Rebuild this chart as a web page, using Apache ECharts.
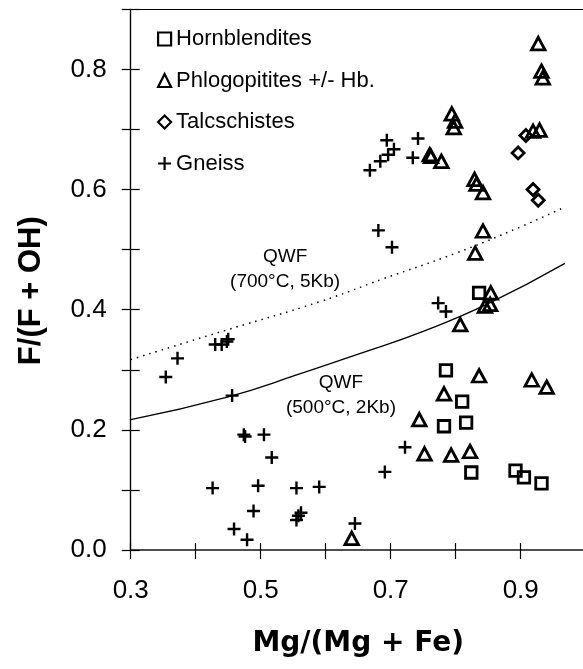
<!DOCTYPE html>
<html>
<head>
<meta charset="utf-8">
<script src="https://cdn.jsdelivr.net/npm/echarts@6/dist/echarts.min.js"></script>
<style>
html,body{margin:0;padding:0;background:#fff;}
#chart{width:583px;height:669px;}
</style>
</head>
<body>
<div id="chart"></div>
<script>
// ---- data ----
const hornblendites = [[0.836,0.428],[0.785,0.299],[0.81,0.247],[0.782,0.206],[0.816,0.212],[0.824,0.129],[0.892,0.132],[0.905,0.121],[0.932,0.111]];
const phlogopitites = [[0.927,0.843],[0.932,0.797],[0.934,0.786],[0.794,0.726],[0.799,0.714],[0.797,0.703],[0.760,0.658],[0.762,0.655],[0.778,0.647],[0.919,0.697],[0.929,0.699],[0.829,0.617],[0.832,0.609],[0.842,0.595],[0.842,0.531],[0.83,0.494],[0.854,0.428],[0.845,0.406],[0.853,0.409],[0.807,0.375],[0.836,0.29],[0.917,0.283],[0.94,0.271],[0.782,0.26],[0.744,0.217],[0.752,0.16],[0.793,0.158],[0.822,0.164],[0.64,0.0195]];
const talcschistes = [[0.896,0.661],[0.908,0.69],[0.919,0.6],[0.927,0.582]];
const gneiss = [[0.354,0.288],[0.372,0.319],[0.43,0.342],[0.44,0.342],[0.448,0.347],[0.45,0.351],[0.456,0.257],[0.474,0.192],[0.476,0.189],[0.505,0.192],[0.517,0.154],[0.426,0.103],[0.496,0.107],[0.555,0.103],[0.59,0.105],[0.489,0.065],[0.555,0.05],[0.558,0.057],[0.562,0.062],[0.459,0.035],[0.479,0.017],[0.722,0.171],[0.691,0.13],[0.645,0.044],[0.681,0.532],[0.702,0.504],[0.773,0.411],[0.785,0.397],[0.668,0.632],[0.684,0.647],[0.696,0.658],[0.705,0.667],[0.694,0.682],[0.734,0.653],[0.742,0.685]];
const qwf700 = [[0.3,0.317],[0.45,0.367],[0.59,0.413],[0.69,0.452],[0.8,0.494],[0.9,0.538],[0.968,0.571]];
const qwf500 = [[0.3,0.217],[0.45,0.255],[0.56,0.293],[0.65,0.326],[0.75,0.364],[0.85,0.41],[0.968,0.477]];
const qwf700Label = {coord:[0.5375,0.4675], text:'QWF\n(700°C, 5Kb)'};
const qwf500Label = {coord:[0.6235,0.257], text:'QWF\n(500°C, 2Kb)'};
const xTickLabels = ['0.3','0.5','0.7','0.9'];
const yTickLabels = ['0.0','0.2','0.4','0.6','0.8'];
const xTitle = 'Mg/(Mg + Fe)';
const yTitle = 'F/(F + OH)';

const FONT = 'Liberation Sans';
const markerStyle = {color:'rgba(0,0,0,0)', borderColor:'#000', borderWidth:2.8, opacity:1};
const plusPath = 'path://M0,6H12M6,0V12';

function xAxisBase(extra){
  return Object.assign({
    type:'value', min:0.3, max:1.0, interval:0.1, position:'bottom',
    splitLine:{show:false},
    axisLine:{show:true, onZero:false, lineStyle:{color:'#444', width:1.6}},
    axisTick:{show:true, length:9, lineStyle:{color:'#000', width:1.2}},
    axisLabel:{show:false}
  }, extra);
}
function yAxisBase(extra){
  return Object.assign({
    type:'value', min:0, max:0.9, interval:0.1, position:'left',
    splitLine:{show:false},
    axisLine:{show:true, onZero:false, lineStyle:{color:'#000', width:1.2}},
    axisTick:{show:true, length:9, lineStyle:{color:'#000', width:1.2}},
    axisLabel:{show:false}
  }, extra);
}

const chart = echarts.init(document.getElementById('chart'), null, {renderer:'canvas'});
chart.setOption({
  backgroundColor:'#fff',
  animation:false,
  grid:{left:130.7, top:9.3, bottom:119, right:-2.7, containLabel:false, outerBoundsMode:'none'},
  legend:{
    orient:'vertical', left:157, top:27, itemGap:17.5, padding:0,
    itemWidth:13, itemHeight:13,
    textStyle:{fontFamily:FONT, fontSize:22, color:'#000', lineHeight:24},
    itemStyle:{color:'rgba(0,0,0,0)', borderColor:'#000', borderWidth:2.2, opacity:1},
    data:['Hornblendites','Phlogopitites +/- Hb.','Talcschistes','Gneiss'],
    selectedMode:false
  },
  xAxis:[
    xAxisBase({
      axisTick:{show:true, inside:false, length:9, lineStyle:{color:'#000', width:1.2}},
      axisLabel:{show:true, margin:28, fontFamily:FONT, fontSize:26, color:'#000',
        formatter:function(v){const s=v.toFixed(1); return xTickLabels.indexOf(s)>=0?s:'';}},
      name:xTitle, nameLocation:'middle', nameGap:80,
      nameTextStyle:{fontFamily:'DejaVu Sans', fontWeight:'bold', fontSize:28, color:'#000'}
    }),
    xAxisBase({axisTick:{show:true, inside:true, length:7, lineStyle:{color:'#000', width:1.2}}}),
    xAxisBase({position:'top', axisLine:{show:true, onZero:false, lineStyle:{color:'#000', width:1.2}}, axisTick:{show:false}})
  ],
  yAxis:[
    yAxisBase({
      axisTick:{show:true, inside:false, length:9, lineStyle:{color:'#000', width:1.2}},
      axisLabel:{show:true, margin:24, fontFamily:FONT, fontSize:26, color:'#000',
        formatter:function(v){const s=v.toFixed(1); return yTickLabels.indexOf(s)>=0?s:'';}},
      name:yTitle, nameLocation:'middle', nameGap:84, nameRotate:90,
      nameTextStyle:{fontFamily:'Liberation Sans', fontWeight:'bold', fontSize:31, color:'#000', padding:[0,22,0,0]}
    }),
    yAxisBase({axisTick:{show:true, inside:true, length:9, lineStyle:{color:'#000', width:1.2}}})
  ],
  series:[
    {
      name:'qwf700', type:'line', data:qwf700, smooth:true, showSymbol:false, silent:true,
      lineStyle:{color:'#000', width:1.5, type:[1.5,5]}, z:1,
      markPoint:{symbol:'circle', symbolSize:1, itemStyle:{color:'rgba(0,0,0,0)'}, silent:true,
        label:{show:true, position:'inside', formatter:qwf700Label.text, fontFamily:FONT, fontSize:19, color:'#000', lineHeight:25, align:'center'},
        data:[{coord:qwf700Label.coord}]}
    },
    {
      name:'qwf500', type:'line', data:qwf500, smooth:true, showSymbol:false, silent:true,
      lineStyle:{color:'#000', width:1.3}, z:1,
      markPoint:{symbol:'circle', symbolSize:1, itemStyle:{color:'rgba(0,0,0,0)'}, silent:true,
        label:{show:true, position:'inside', formatter:qwf500Label.text, fontFamily:FONT, fontSize:19, color:'#000', lineHeight:25, align:'center'},
        data:[{coord:qwf500Label.coord}]}
    },
    {name:'Hornblendites', type:'scatter', data:hornblendites, symbol:'rect', symbolSize:11.5, itemStyle:markerStyle, z:3},
    {name:'Phlogopitites +/- Hb.', type:'scatter', data:phlogopitites, symbol:'triangle', symbolSize:[13.5,12.5], itemStyle:markerStyle, z:3},
    {name:'Talcschistes', type:'scatter', data:talcschistes, symbol:'diamond', symbolSize:12, itemStyle:markerStyle, z:3},
    {name:'Gneiss', type:'scatter', data:gneiss, symbol:plusPath, symbolSize:13, itemStyle:{color:'rgba(0,0,0,0)', borderColor:'#000', borderWidth:2.4, opacity:1}, z:3}
  ]
});
</script>
</body>
</html>
